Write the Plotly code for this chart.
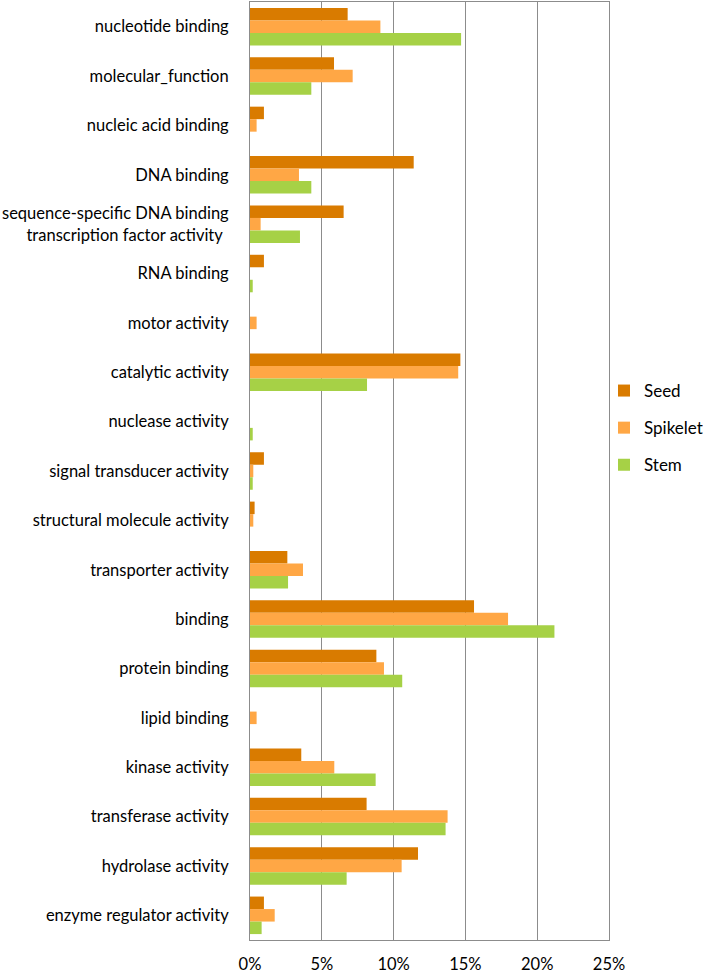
import plotly.graph_objects as go

categories = [
    "nucleotide binding", "molecular_function", "nucleic acid binding", "DNA binding",
    "sequence-specific DNA binding<br>transcription factor activity\u00a0\u2009", "RNA binding",
    "motor activity", "catalytic activity", "nuclease activity", "signal transducer activity",
    "structural molecule activity", "transporter activity", "binding", "protein binding",
    "lipid binding", "kinase activity", "transferase activity", "hydrolase activity",
    "enzyme regulator activity",
]
seed = [6.8, 5.85, 0.97, 11.4, 6.52, 0.97, 0, 14.65, 0, 0.97, 0.32, 2.6, 15.6, 8.8, 0, 3.57, 8.12, 11.7, 0.97]
spikelet = [9.08, 7.15, 0.46, 3.41, 0.74, 0, 0.46, 14.5, 0, 0.23, 0.23, 3.69, 17.97, 9.33, 0.46, 5.87, 13.76, 10.56, 1.72]
stem = [14.7, 4.27, 0, 4.27, 3.48, 0.19, 0, 8.15, 0.19, 0.19, 0, 2.65, 21.2, 10.6, 0, 8.75, 13.62, 6.73, 0.81]
x_ticks = [0, 5, 10, 15, 20, 25]
x_tick_labels = ["0%", "5%", "10%", "15%", "20%", "25%"]

series = [("Seed", seed, "#D97B00"), ("Spikelet", spikelet, "#FFA745"), ("Stem", stem, "#A6D146")]

fig = go.Figure()
for i, (name, vals, color) in enumerate(series):
    fig.add_trace(go.Bar(
        y=categories, x=vals, name=name, orientation="h",
        marker=dict(color=color, line=dict(width=0)),
        legendgroup=name,
    ))

fig.update_layout(
    width=703, height=973,
    margin=dict(l=250, r=94, t=2, b=33, autoexpand=False),
    paper_bgcolor="white", plot_bgcolor="white",
    barmode="group", bargap=0.24, bargroupgap=0,
    font=dict(family="Lato, Open Sans, sans-serif", size=16.5, color="black"),
    legend=dict(x=604 / 703, xref="container", xanchor="left",
                y=1 - 428 / 973, yref="container", yanchor="middle",
                font=dict(size=17), tracegroupgap=12, traceorder="grouped",
                itemwidth=30, bgcolor="rgba(0,0,0,0)"),
    xaxis=dict(range=[0, 25], tickvals=x_ticks, ticktext=x_tick_labels,
               showgrid=True, gridcolor="#8c8c8c", gridwidth=1, automargin=False,
               showline=True, linecolor="#8c8c8c", mirror=True, zeroline=False,
               ticks="", fixedrange=True, ticklabelstandoff=9),
    yaxis=dict(autorange="reversed", showline=True, linecolor="#8c8c8c", mirror=True,
               showgrid=False, ticks="", ticklabelstandoff=17, automargin=False),
)

fig.write_html("out.html", config={"displayModeBar": False},
               post_script="document.body.style.margin='0';document.body.style.overflow='hidden';")
